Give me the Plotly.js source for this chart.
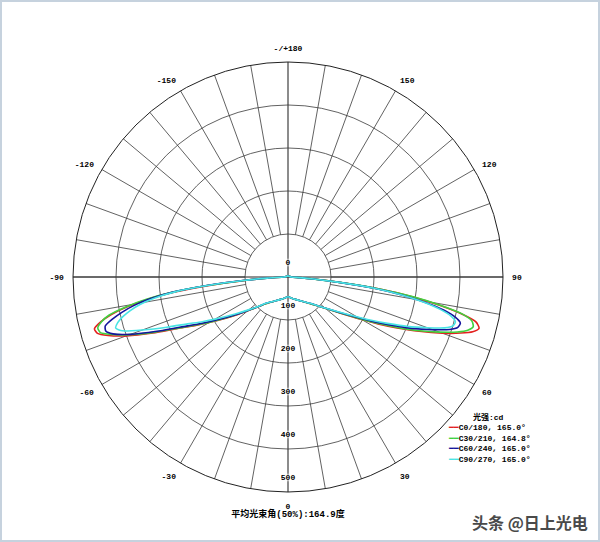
<!DOCTYPE html>
<html>
<head>
<meta charset="utf-8">
<script src="https://cdn.plot.ly/plotly-3.0.1.min.js"></script>
<style>
  html, body { margin: 0; padding: 0; background: #fff; }
  #wrap { position: relative; width: 600px; height: 542px; }
  #frame { position: absolute; left: 0; top: 0; width: 600px; height: 542px; box-sizing: border-box; border: 2px solid #c6d2de; pointer-events: none; }
</style>
</head>
<body>
<div id="wrap"><div id="chart"></div><div id="frame"></div></div>
<script>
// ---- data (gamma angle in degrees, luminous intensity in cd) ----
const angles = [-180,-170,-160,-150,-140,-130,-120,-110,-100,-90,-87,-85.5,-84,-82.5,-81,-79.5,-78,-76.5,-75,-73.5,-72,-70,-67.5,-65,-62.5,-60,-55,-50,-45,-40,-30,-20,-10,
  0,10,20,30,40,45,50,55,60,62.5,65,67.5,70,72,73.5,75,76.5,78,79.5,81,82.5,84,85.5,87,90,100,110,120,130,140,150,160,170,180];

const c0_180 = [2,2,2,3,3,3,3,4,5,10,45,100,180,265,330,380,420,448,466,462,440,400,340,283,245,212,160,122,98,81,65,56,50,
  46,50,56,65,81,94,113,145,198,236,280,330,382,422,448,460,450,412,355,290,212,120,60,28,8,5,4,3,3,3,2,2,2,2];

const c30_210 = [2,2,2,3,3,3,3,4,5,10,45,102,185,270,335,385,425,446,458,455,432,392,335,280,242,210,158,121,98,81,65,56,50,
  46,50,56,65,81,94,113,144,195,232,275,325,375,414,436,446,440,415,360,295,218,125,62,28,8,5,4,3,3,3,2,2,2,2];

const c60_240 = [2,2,2,3,3,3,3,4,5,10,48,105,190,270,325,365,395,420,440,442,428,390,330,275,238,206,156,120,97,80,65,56,50,
  46,50,56,65,80,93,112,142,190,225,265,312,358,395,412,415,400,370,325,270,205,120,60,28,8,5,4,3,3,3,2,2,2,2];

const c90_270 = [2,2,2,3,3,3,3,4,5,10,48,105,185,265,315,350,375,395,410,418,405,360,305,258,225,196,150,118,96,80,65,56,50,
  46,50,56,65,80,93,112,140,185,218,255,300,345,383,400,403,390,362,320,268,205,120,60,28,8,5,4,3,3,3,2,2,2,2];

const seriesNames = ['C0/180, 165.0°', 'C30/210, 164.8°', 'C60/240, 165.0°', 'C90/270, 165.0°'];
const seriesColors = ['#e3211f', '#3fd23f', '#14149c', '#48e4e4'];
const seriesValues = [c0_180, c30_210, c60_240, c90_270];
const legendTitle = '光强:cd';

const radialTicks = [0, 100, 200, 300, 400, 500];
const radialTickText = ['0', '100', '200', '300', '400', '500'];
const angleLabelVals = [0, 30, 60, 90, 120, 150, 180, 210, 240, 270, 300, 330];
const angleLabelText = ['0', '30', '60', '90', '120', '150', '-/+180', '-150', '-120', '-90', '-60', '-30'];

// ---- build ----
const monoBold = { family: 'Liberation Mono, DejaVu Sans Mono, monospace', size: 8, color: '#000', weight: 'bold' };

// spokes every 10 degrees (drawn from the inner ring outward), labels every 30
const spokeVals = [];
const spokeText = [];
for (let a = 10; a < 360; a += 10) {
  if (a === 180) continue;
  spokeVals.push(a);
  const idx = angleLabelVals.indexOf(a);
  spokeText.push(idx >= 0 ? angleLabelText[idx] : '');
}
const axisVals = [0, 180];
const axisText = axisVals.map(v => angleLabelText[angleLabelVals.indexOf(v)]);

const dom = { x: [73 / 600, 503 / 600], y: [50 / 542, 480 / 542] };
const angBase = { rotation: -90, direction: 'counterclockwise', thetaunit: 'degrees',
  ticks: 'outside', ticklen: 7, tickcolor: 'rgba(0,0,0,0)' };

const traces = [];
// anchor so the spoke subplot is drawn
traces.push({ type: 'scatterpolar', subplot: 'polar', r: [radialTicks[radialTicks.length - 1]], theta: [0],
  mode: 'markers', marker: { opacity: 0 }, hoverinfo: 'skip', showlegend: false });
// radial value labels
traces.push({ type: 'scatterpolar', subplot: 'polar2', r: radialTicks, theta: radialTicks.map(() => 0),
  mode: 'text', text: radialTickText.map(t => t + '<br> '), textposition: 'top center',
  textfont: Object.assign({}, monoBold, { shadow: '0 0 2px #fff, 0 0 2px #fff, 0 0 3px #fff, 0 0 3px #fff' }),
  hoverinfo: 'skip', showlegend: false });
// intensity curves
for (let i = 0; i < seriesValues.length; i++) {
  traces.push({ type: 'scatterpolar', subplot: 'polar3', r: seriesValues[i], theta: angles,
    mode: 'lines', name: seriesNames[i], showlegend: false,
    line: { color: seriesColors[i], width: 1.6, shape: 'spline', smoothing: 0.6 } });
}

// compact legend block (same layout as the reference's key)
const legendText = '&nbsp;&nbsp;&nbsp;&nbsp;&nbsp;<b>' + legendTitle + '</b><br>' +
  seriesNames.map((n, i) => '<span style="color:' + seriesColors[i] + '">━━</span>' + n).join('<br>');

const layout = {
  width: 600, height: 542,
  margin: { l: 0, r: 0, t: 0, b: 0 },
  paper_bgcolor: '#fff',
  font: monoBold,
  showlegend: false,
  title: {
    text: '平均光束角(50%):164.9度',
    font: { family: 'Liberation Mono, Noto Sans CJK SC', size: 9, weight: 'bold', color: '#000' },
    xref: 'container', yref: 'container', x: 288 / 600, xanchor: 'center', y: 1 - 514 / 542, yanchor: 'middle'
  },
  polar: {
    domain: dom, hole: 43 / 215, bgcolor: 'rgba(0,0,0,0)',
    angularaxis: Object.assign({}, angBase, { tickmode: 'array', tickvals: spokeVals, ticktext: spokeText,
      showgrid: true, gridcolor: '#3a3a3a', gridwidth: 0.8, showline: false, tickfont: monoBold }),
    radialaxis: { range: [100, 500], showgrid: false, showticklabels: false, showline: false, ticks: '' }
  },
  polar2: {
    domain: dom, bgcolor: 'rgba(0,0,0,0)',
    angularaxis: Object.assign({}, angBase, { tickmode: 'array', tickvals: axisVals, ticktext: axisText,
      showgrid: true, gridcolor: '#8c8c8c', gridwidth: 2, showline: false, tickfont: monoBold }),
    radialaxis: { range: [0, 500], showgrid: false, showticklabels: false, showline: false, ticks: '' }
  },
  polar3: {
    domain: dom, bgcolor: 'rgba(0,0,0,0)',
    angularaxis: { rotation: -90, direction: 'counterclockwise', thetaunit: 'degrees', ticks: '',
      tickmode: 'array', tickvals: [90, 270], showticklabels: false,
      showgrid: true, gridcolor: '#222', gridwidth: 1, showline: true, linecolor: '#222', linewidth: 1 },
    radialaxis: { range: [0, 500], tickmode: 'array', tickvals: radialTicks.slice(1, -1), showgrid: true,
      gridcolor: '#3a3a3a', gridwidth: 0.8, showticklabels: false, showline: false, ticks: '' }
  },
  annotations: [{
    text: legendText, xref: 'paper', yref: 'paper', x: 446 / 600, y: 1 - 410 / 542,
    xanchor: 'left', yanchor: 'top', align: 'left', showarrow: false,
    font: { family: 'Liberation Mono, DejaVu Sans Mono, Noto Sans CJK SC', size: 8, weight: 'bold', color: '#000' }
  }, {
    text: '头条 @日上光电', xref: 'paper', yref: 'paper', x: 590 / 600, y: 1 - 522 / 542,
    xanchor: 'right', yanchor: 'middle', showarrow: false,
    font: { family: 'Noto Sans CJK SC', size: 16, color: '#4a4a4a' }
  }]
};

Plotly.newPlot('chart', traces, layout, { staticPlot: true, displayModeBar: false });
</script>
</body>
</html>
